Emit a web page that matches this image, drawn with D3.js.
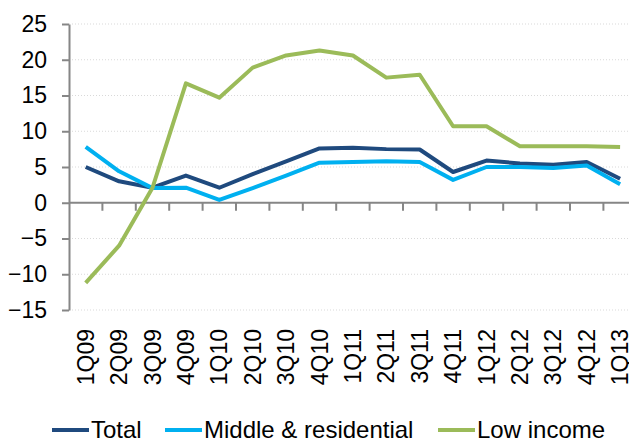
<!DOCTYPE html>
<html>
<head>
<meta charset="utf-8">
<script src="https://cdn.jsdelivr.net/npm/d3@7"></script>
<style>
  body { margin: 0; background: #fff; }
  text { font-family: "Liberation Sans", Arial, sans-serif; fill: #000; }
</style>
</head>
<body>
<div id="chart"></div>
<script>
//data
const quarters = ["1Q09", "2Q09", "3Q09", "4Q09", "1Q10", "2Q10", "3Q10", "4Q10", "1Q11",
  "2Q11", "3Q11", "4Q11", "1Q12", "2Q12", "3Q12", "4Q12", "1Q13"];
const total = [5.0, 3.0, 2.1, 3.8, 2.1, 4.0, 5.8, 7.6, 7.7, 7.5, 7.45, 4.3, 5.9, 5.5, 5.3, 5.7, 3.35];
const middle = [7.8, 4.4, 2.05, 2.1, 0.4, 2.05, 3.8, 5.6, 5.7, 5.8, 5.7, 3.2, 5.0, 5.0, 4.85, 5.2, 2.6];
const lowIncome = [-11.2, -6.0, 2.1, 16.7, 14.7, 18.9, 20.6, 21.3, 20.6, 17.5, 17.9, 10.7, 10.7, 7.9, 7.9, 7.9, 7.8];
const yTicks = [-15, -10, -5, 0, 5, 10, 15, 20, 25];

const series = [
  { name: "Total", values: total, color: "#1f4a7e" },
  { name: "Middle & residential", values: middle, color: "#00b0f0" },
  { name: "Low income", values: lowIncome, color: "#9bbb59" },
];

//set parameters
const width = 629;
const height = 443;
const left = 69;
const step = 33.4;

const svg = d3.select("#chart").append("svg")
  .attr("width", width)
  .attr("height", height);

const x = d3.scaleBand().domain(quarters).range([left, left + step * quarters.length]);
const y = d3.scaleLinear().domain([-15, 25]).range([310, 24]);

//gridlines
svg.append("g")
  .selectAll("line")
  .data(yTicks.filter((d) => d !== 0))
  .join("line")
  .attr("x1", left)
  .attr("x2", width)
  .attr("y1", (d) => y(d))
  .attr("y2", (d) => y(d))
  .attr("stroke", "#d9d9d9")
  .attr("stroke-width", 1)
  .attr("stroke-dasharray", "1,2");

//y axis
const gy = svg.append("g")
  .attr("transform", `translate(${left},0)`)
  .call(d3.axisLeft(y).tickValues(yTicks).tickSize(7).tickSizeOuter(0).tickPadding(15));
gy.select(".domain").attr("stroke", "#868686").attr("stroke-width", 2);
gy.selectAll(".tick line").attr("stroke", "#868686").attr("stroke-width", 2);
gy.selectAll(".tick text").attr("font-size", 23).attr("font-family", "Liberation Sans, Arial, sans-serif").attr("fill", "#000");

//x axis at zero
const gx = svg.append("g");
gx.append("line")
  .attr("x1", left)
  .attr("x2", width)
  .attr("y1", y(0))
  .attr("y2", y(0))
  .attr("stroke", "#868686")
  .attr("stroke-width", 2);
gx.selectAll(".xtick")
  .data(quarters.slice(1))
  .join("line")
  .attr("class", "xtick")
  .attr("x1", (d) => x(d))
  .attr("x2", (d) => x(d))
  .attr("y1", y(0))
  .attr("y2", y(0) + 8)
  .attr("stroke", "#868686")
  .attr("stroke-width", 2);

//x labels, rotated, below plot
svg.append("g")
  .selectAll("text")
  .data(quarters)
  .join("text")
  .attr("transform", (d) => `translate(${x(d) + x.bandwidth() / 2},329) rotate(-90)`)
  .attr("text-anchor", "end")
  .attr("dy", "0.35em")
  .attr("font-size", 23)
  .text((d) => d);

//lines
const line = d3.line()
  .x((d, i) => x(quarters[i]) + x.bandwidth() / 2)
  .y((d) => y(d));

svg.append("g")
  .selectAll("path")
  .data(series)
  .join("path")
  .attr("d", (d) => line(d.values))
  .attr("fill", "none")
  .attr("stroke", (d) => d.color)
  .attr("stroke-width", 4)
  .attr("stroke-linejoin", "round");

//legend
const legendX = [52, 165, 438];
const legend = svg.append("g")
  .selectAll("g")
  .data(series)
  .join("g")
  .attr("transform", (d, i) => `translate(${legendX[i]},430)`);
legend.append("line")
  .attr("x1", 0)
  .attr("x2", 37)
  .attr("stroke", (d) => d.color)
  .attr("stroke-width", 4);
legend.append("text")
  .attr("x", 39)
  .attr("y", 8)
  .attr("font-size", 24)
  .text((d) => d.name);
</script>
</body>
</html>
